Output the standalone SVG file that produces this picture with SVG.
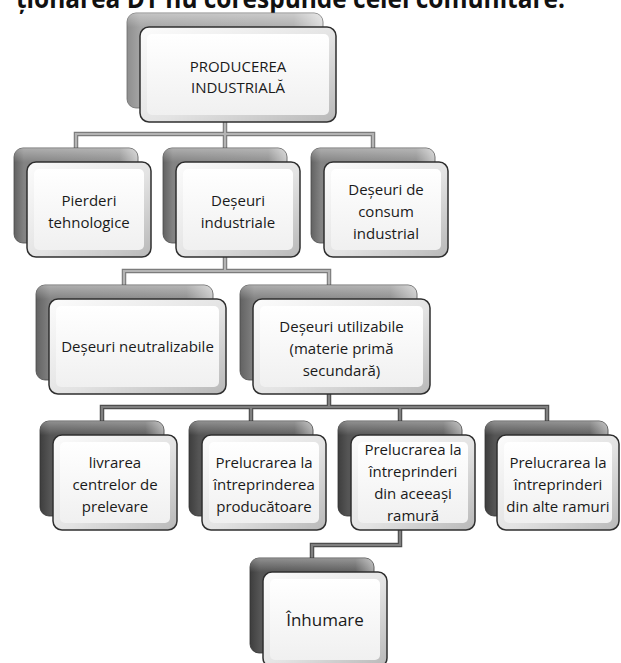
<svg xmlns="http://www.w3.org/2000/svg" width="621" height="663" viewBox="0 0 621 663">
<defs>
<linearGradient id="face" x1="0" y1="0" x2="0" y2="1"><stop offset="0" stop-color="#ffffff"/><stop offset="1" stop-color="#f0f0f0"/></linearGradient>
<linearGradient id="bevel" x1="0" y1="0" x2="1" y2="1"><stop offset="0" stop-color="#fcfcfc"/><stop offset="0.55" stop-color="#e3e3e3"/><stop offset="1" stop-color="#b8b8b8"/></linearGradient>
<linearGradient id="bk1" x1="0" y1="0" x2="1" y2="0"><stop offset="0" stop-color="#8e8e8e"/><stop offset="0.07" stop-color="#a6a6a6"/><stop offset="0.85" stop-color="#b0b0b0"/><stop offset="1" stop-color="#dcdcdc"/></linearGradient>
<linearGradient id="bk2" x1="0" y1="0" x2="1" y2="0"><stop offset="0" stop-color="#626262"/><stop offset="0.08" stop-color="#838383"/><stop offset="0.85" stop-color="#8f8f8f"/><stop offset="1" stop-color="#c8c8c8"/></linearGradient>
<linearGradient id="bk3" x1="0" y1="0" x2="1" y2="0"><stop offset="0" stop-color="#3e3e3e"/><stop offset="0.08" stop-color="#555555"/><stop offset="0.85" stop-color="#5f5f5f"/><stop offset="1" stop-color="#a8a8a8"/></linearGradient>
<linearGradient id="topsheen" x1="0" y1="0" x2="0" y2="1"><stop offset="0" stop-color="#ffffff" stop-opacity="0.35"/><stop offset="0.15" stop-color="#ffffff" stop-opacity="0"/></linearGradient>
</defs>
<style>
.head{font-family:"Open Sans","Noto Sans",sans-serif;font-weight:bold;font-size:26px;fill:#111}
.t{font-family:"Open Sans","Noto Sans",sans-serif;font-size:15px;fill:#1a1a1a;text-anchor:middle}
.big{font-size:17px}
.b1{fill:url(#bk1);stroke:#6a6a6a;stroke-width:0.8}
.b2{fill:url(#bk2);stroke:#4a4a4a;stroke-width:0.8}
.b3{fill:url(#bk3);stroke:#333;stroke-width:0.8}
.sh{fill:url(#topsheen)}
.fr{fill:url(#bevel);stroke:#2f2f2f;stroke-width:1.5}
.fc{fill:url(#face)}
.cO{fill:none;stroke:#7c7c7c;stroke-width:4.5}
.cI{fill:none;stroke:#b4b4b4;stroke-width:2.2}
.dO{fill:none;stroke:#4e4e4e;stroke-width:4.5}
.dI{fill:none;stroke:#808080;stroke-width:2.2}
</style>

<text class="head" x="16" y="8" textLength="549" lengthAdjust="spacingAndGlyphs">ționarea DT nu corespunde celei comunitare.</text>

<g id="connectors">
<path class="cO" d="M225 100V134M76 148V134H373V148M225 134V148M225 243V271M124 285V271H329V285"/>
<path class="cI" d="M225 100V134M76 148V134H373V148M225 134V148M225 243V271M124 285V271H329V285"/>
<path class="dO" d="M329 380V407M102 421V407H547V421M251 407V421M400 407V421M400 516V545H312V558"/>
<path class="dI" d="M329 380V407M102 421V407H547V421M251 407V421M400 407V421M400 516V545H312V558"/>
</g>

<g id="n-producerea">
<rect class="b1" x="127" y="13" width="196" height="95" rx="9"/>
<rect class="sh" x="127" y="13" width="196" height="95" rx="9"/>
<rect class="fr" x="140" y="27" width="196" height="95" rx="9"/>
<rect class="fc" x="147" y="34" width="182" height="81" rx="5"/>
<text class="t" x="238" y="72">PRODUCEREA</text>
<text class="t" x="238" y="93">INDUSTRIALĂ</text>
</g>

<g id="n-pierderi">
<rect class="b2" x="14" y="148" width="124" height="95" rx="9"/>
<rect class="sh" x="14" y="148" width="124" height="95" rx="9"/>
<rect class="fr" x="27" y="162" width="124" height="95" rx="9"/>
<rect class="fc" x="34" y="169" width="110" height="81" rx="5"/>
<text class="t" x="89" y="206">Pierderi</text>
<text class="t" x="89" y="228">tehnologice</text>
</g>

<g id="n-deseuri-ind">
<rect class="b2" x="163" y="148" width="124" height="95" rx="9"/>
<rect class="sh" x="163" y="148" width="124" height="95" rx="9"/>
<rect class="fr" x="176" y="162" width="124" height="95" rx="9"/>
<rect class="fc" x="183" y="169" width="110" height="81" rx="5"/>
<text class="t" x="238" y="206">Deșeuri</text>
<text class="t" x="238" y="228">industriale</text>
</g>

<g id="n-consum">
<rect class="b2" x="311" y="148" width="124" height="95" rx="9"/>
<rect class="sh" x="311" y="148" width="124" height="95" rx="9"/>
<rect class="fr" x="324" y="162" width="124" height="95" rx="9"/>
<rect class="fc" x="331" y="169" width="110" height="81" rx="5"/>
<text class="t" x="386" y="195">Deșeuri de</text>
<text class="t" x="386" y="217">consum</text>
<text class="t" x="386" y="239">industrial</text>
</g>

<g id="n-neutralizabile">
<rect class="b2" x="36" y="285" width="177" height="95" rx="9"/>
<rect class="sh" x="36" y="285" width="177" height="95" rx="9"/>
<rect class="fr" x="49" y="299" width="177" height="95" rx="9"/>
<rect class="fc" x="56" y="306" width="163" height="81" rx="5"/>
<text class="t" x="137.5" y="352">Deșeuri neutralizabile</text>
</g>

<g id="n-utilizabile">
<rect class="b2" x="240" y="285" width="177" height="95" rx="9"/>
<rect class="sh" x="240" y="285" width="177" height="95" rx="9"/>
<rect class="fr" x="253" y="299" width="177" height="95" rx="9"/>
<rect class="fc" x="260" y="306" width="163" height="81" rx="5"/>
<text class="t" x="341.5" y="332">Deșeuri utilizabile</text>
<text class="t" x="341.5" y="354">(materie primă</text>
<text class="t" x="341.5" y="376">secundară)</text>
</g>

<g id="n-livrarea">
<rect class="b3" x="40" y="421" width="124" height="95" rx="9"/>
<rect class="sh" x="40" y="421" width="124" height="95" rx="9"/>
<rect class="fr" x="53" y="435" width="124" height="95" rx="9"/>
<rect class="fc" x="60" y="442" width="110" height="81" rx="5"/>
<text class="t" x="115" y="468">livrarea</text>
<text class="t" x="115" y="490">centrelor de</text>
<text class="t" x="115" y="512">prelevare</text>
</g>

<g id="n-prelucrarea-prod">
<rect class="b3" x="189" y="421" width="124" height="95" rx="9"/>
<rect class="sh" x="189" y="421" width="124" height="95" rx="9"/>
<rect class="fr" x="202" y="435" width="124" height="95" rx="9"/>
<rect class="fc" x="209" y="442" width="110" height="81" rx="5"/>
<text class="t" x="264" y="468">Prelucrarea la</text>
<text class="t" x="264" y="490">întreprinderea</text>
<text class="t" x="264" y="512">producătoare</text>
</g>

<g id="n-prelucrarea-aceeasi">
<rect class="b3" x="338" y="421" width="124" height="95" rx="9"/>
<rect class="sh" x="338" y="421" width="124" height="95" rx="9"/>
<rect class="fr" x="351" y="435" width="124" height="95" rx="9"/>
<rect class="fc" x="358" y="442" width="110" height="81" rx="5"/>
<text class="t" x="413" y="455">Prelucrarea la</text>
<text class="t" x="413" y="477">întreprinderi</text>
<text class="t" x="413" y="499">din aceeași</text>
<text class="t" x="413" y="521">ramură</text>
</g>

<g id="n-prelucrarea-alte">
<rect class="b3" x="485" y="421" width="123" height="95" rx="9"/>
<rect class="sh" x="485" y="421" width="123" height="95" rx="9"/>
<rect class="fr" x="497" y="435" width="122" height="95" rx="9"/>
<rect class="fc" x="504" y="442" width="108" height="81" rx="5"/>
<text class="t" x="558" y="468">Prelucrarea la</text>
<text class="t" x="558" y="490">întreprinderi</text>
<text class="t" x="558" y="512">din alte ramuri</text>
</g>

<g id="n-inhumare">
<rect class="b3" x="250" y="558" width="124" height="95" rx="9"/>
<rect class="sh" x="250" y="558" width="124" height="95" rx="9"/>
<rect class="fr" x="263" y="572" width="124" height="95" rx="9"/>
<rect class="fc" x="270" y="579" width="110" height="81" rx="5"/>
<text class="t big" x="325" y="626">Înhumare</text>
</g>
</svg>
